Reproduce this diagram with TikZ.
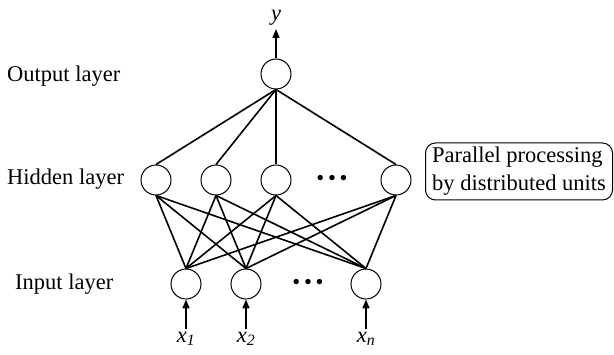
\documentclass[tikz,border=0pt]{standalone}
\usepackage{fontspec}
\setmainfont{Liberation Serif}
\usetikzlibrary{arrows.meta}

\begin{document}
\begin{tikzpicture}[
  x=1pt, y=-1pt,
  every node/.style={font=\fontsize{22.5}{28}\selectfont},
  unit/.style={draw, circle, minimum size=30pt, inner sep=0pt, line width=1pt},
  link/.style={line width=1.6pt},
  sig/.style={-{Triangle[length=9pt,width=7pt]}, line width=1.6pt},
  layername/.style={anchor=base west, inner sep=0pt},
  varname/.style={inner sep=3pt},
  dots/.style={inner sep=0pt},
  note/.style={draw, rounded corners=10pt, line width=1pt, align=left, inner xsep=6pt, minimum width=187pt, minimum height=57pt}
]
\useasboundingbox (0,0) rectangle (614,355);

% Layer names
\node[layername] (lout) at (7,82) {Output layer};
\node[layername] (lhid) at (7,185) {Hidden layer};
\node[layername] (lin) at (15,290) {Input layer};

% Output layer
\node[unit] (o) at (276,74) {};
\node[varname, anchor=south] (y) at (276,29) {\textit{y}};

% Hidden layer
\foreach \n/\x in {1/156,2/216,3/276,4/396}
  \node[unit] (h\n) at (\x,180) {};
\node[dots] (hdots) at (332,180) {\textbullet\,\textbullet\,\textbullet};

% Input layer
\foreach \n/\x/\t in {1/186/1,2/246/2,3/366/n} {
  \node[unit] (i\n) at (\x,284) {};
  \node[varname, anchor=north] (x\n) at (\x,329) {\textit{x\textsubscript{\t}}};
}
\node[dots] (idots) at (308,284) {\textbullet\,\textbullet\,\textbullet};

% Note
\node[note] (par) at (519,171.5) {Parallel processing\\by distributed units};

% Connections
\foreach \n in {1,...,4}
  \draw[link] (o.south) -- (h\n.north);
\foreach \n in {1,...,4}
  \foreach \m in {1,2,3}
    \draw[link] (h\n.south) -- (i\m.north);

\draw[sig] (o.north) -- (y.south);
\foreach \m in {1,2,3}
  \draw[sig] (x\m.north) -- (i\m.south);

\end{tikzpicture}
\end{document}
